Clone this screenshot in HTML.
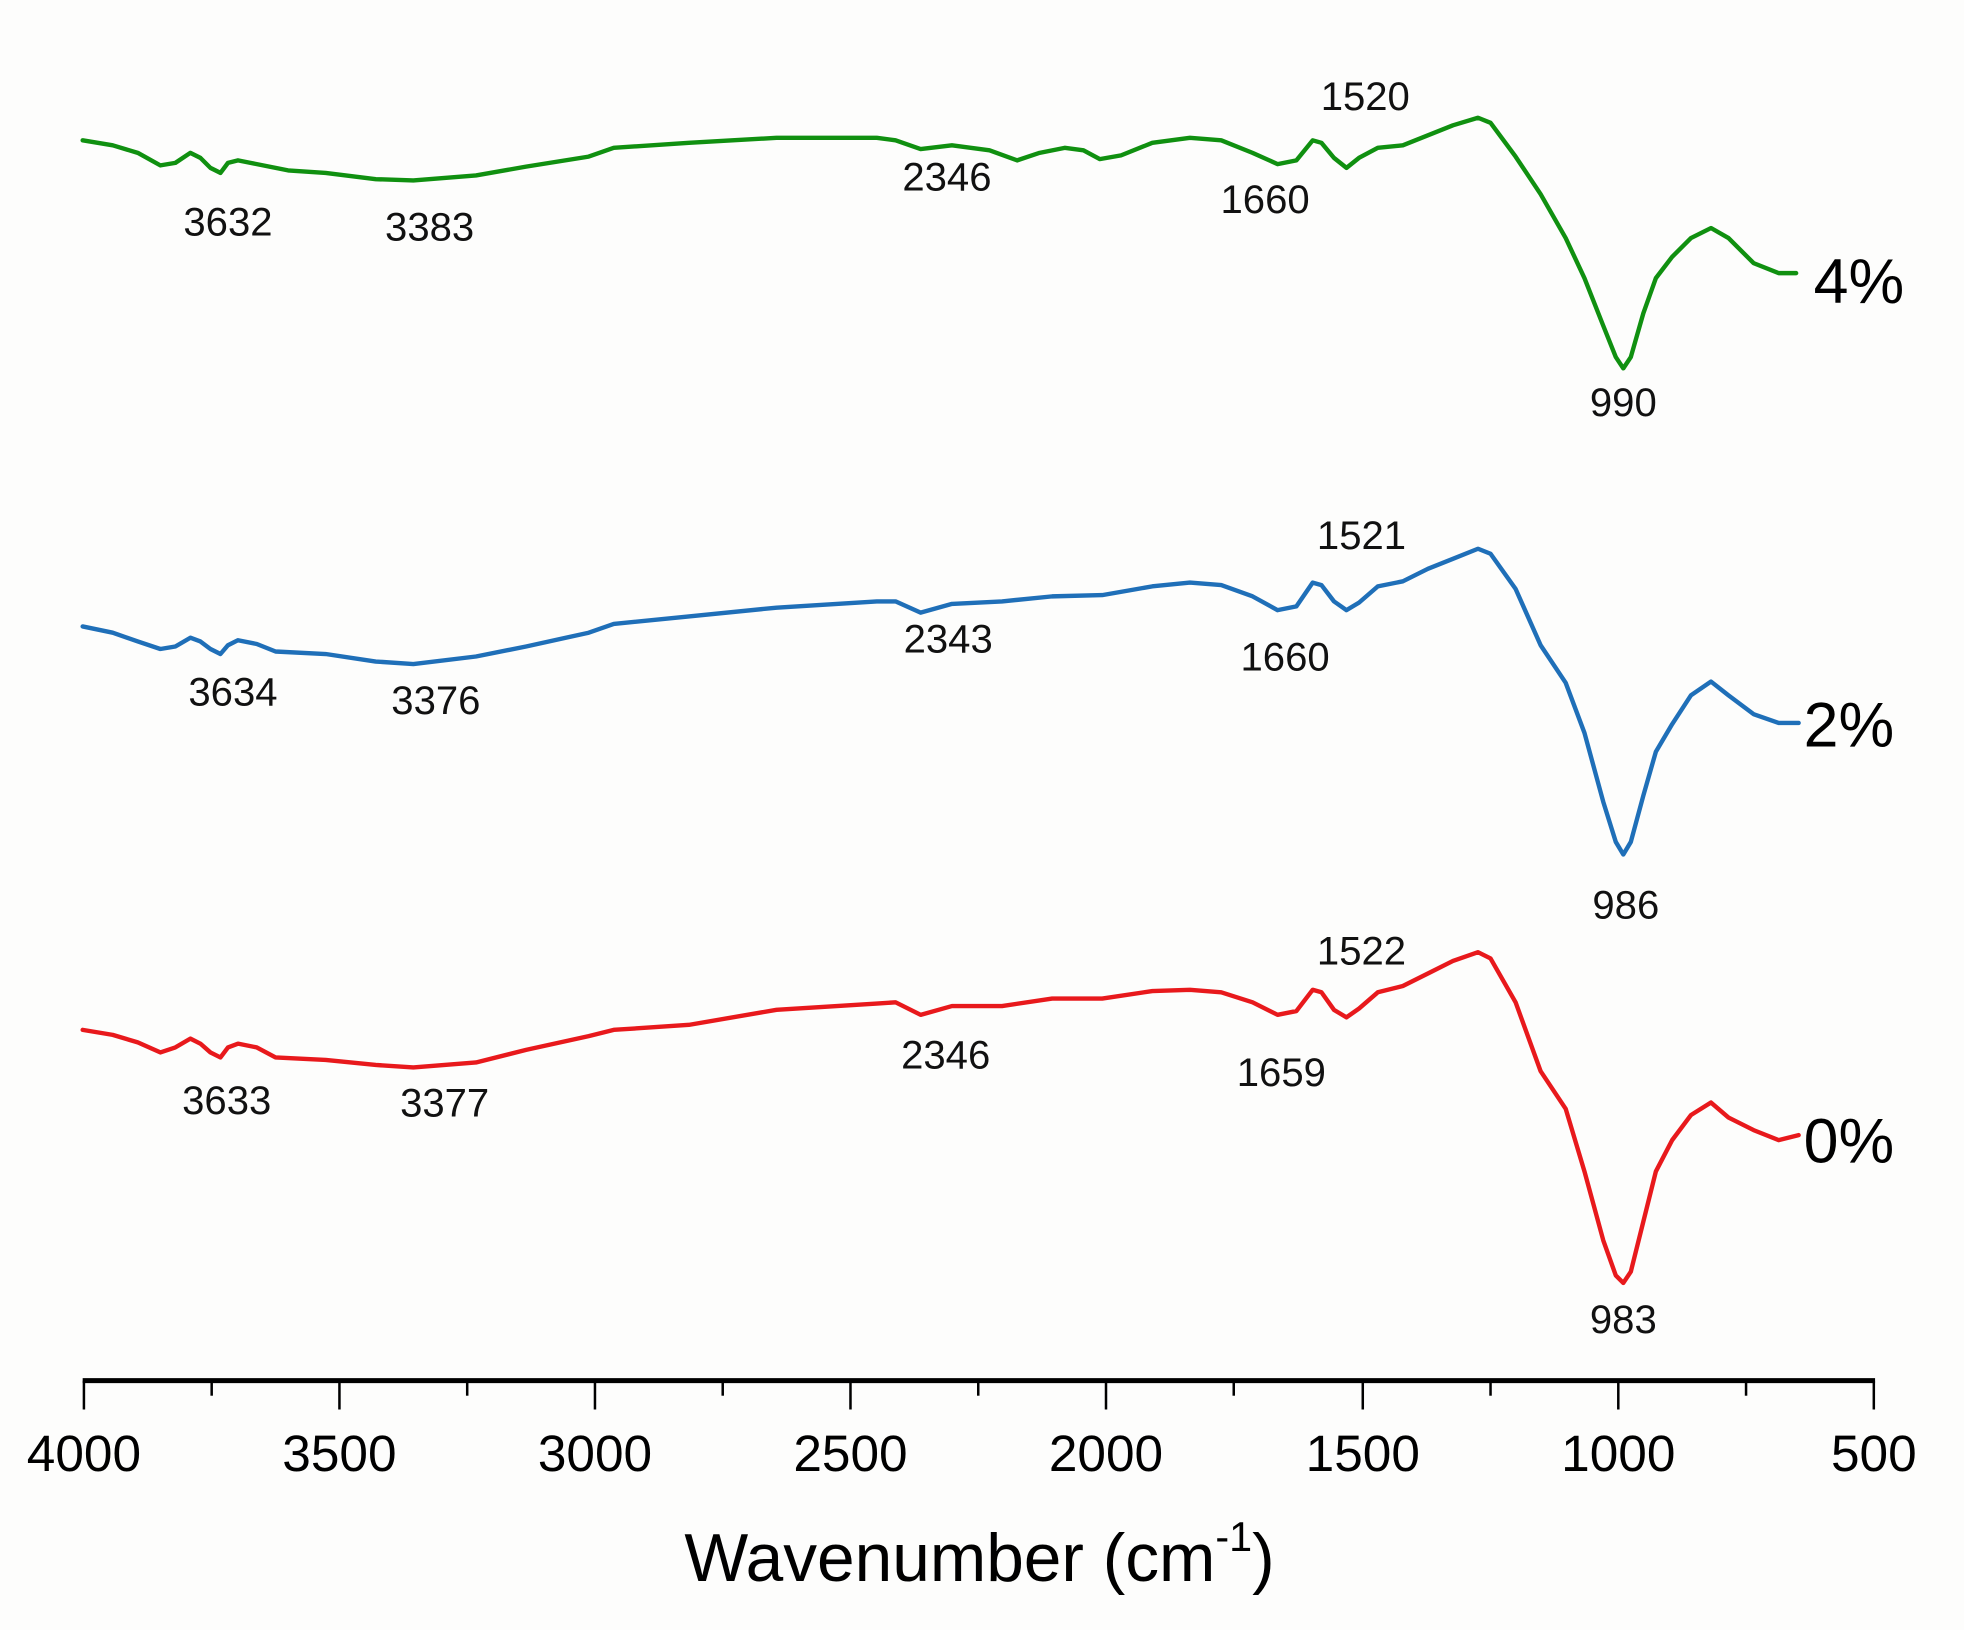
<!DOCTYPE html>
<html><head><style>html,body{margin:0;padding:0;background:#fff;}svg{display:block}</style></head>
<body>
<svg width="1964" height="1630" viewBox="0 0 1568 1301" preserveAspectRatio="none" xmlns="http://www.w3.org/2000/svg" font-family="Liberation Sans, Arial, sans-serif">
<rect width="1568" height="1301" fill="#fdfdfc"/>
<g fill="none" stroke-width="3.5" stroke-linejoin="round" stroke-linecap="round">
<polyline stroke="#109010" points="66,112 90,116 110,122 128,132 140,130 152,122 160,126 168,134 176,138 182,130 190,128 200,130 215,133 230,136 260,138 300,143 330,144 380,140 420,133 470,125 490,118 550,114 620,110 700,110 715,112 735,119 760,116 790,120 812,128 830,122 850,118 865,120 878,127 895,124 920,114 950,110 975,112 1000,122 1020,131 1035,128 1048,112 1055,114 1065,126 1075,134 1085,126 1100,118 1120,116 1140,108 1160,100 1180,94 1190,98 1210,125 1230,155 1250,190 1265,222 1280,260 1290,285 1296,294 1302,285 1312,250 1322,222 1335,205 1350,190 1366,182 1380,190 1400,210 1420,218 1434,218"/>
<polyline stroke="#1f6fb8" points="66,500 90,505 110,512 128,518 140,516 152,509 160,512 168,518 176,522 182,515 190,511 205,514 220,520 260,522 300,528 330,530 380,524 420,516 470,505 490,498 550,492 620,485 700,480 715,480 735,489 760,482 800,480 840,476 880,475 920,468 950,465 975,467 1000,476 1020,487 1035,484 1048,465 1055,467 1065,480 1075,487 1085,481 1100,468 1120,464 1140,454 1160,446 1180,438 1190,442 1210,470 1230,515 1250,545 1265,585 1280,640 1290,672 1296,682 1302,672 1312,635 1322,600 1335,578 1350,555 1366,544 1380,555 1400,570 1420,577 1436,577"/>
<polyline stroke="#e8191c" points="66,822 90,826 110,832 128,840 140,836 152,829 160,833 168,840 176,844 182,836 190,833 205,836 220,844 260,846 300,850 330,852 380,848 420,838 470,827 490,822 550,818 620,806 700,801 715,800 735,810 760,803 800,803 840,797 880,797 920,791 950,790 975,792 1000,800 1020,810 1035,807 1048,790 1055,792 1065,806 1075,812 1085,805 1100,792 1120,787 1140,777 1160,767 1180,760 1190,765 1210,800 1230,855 1250,885 1265,935 1280,990 1290,1018 1296,1024 1302,1015 1312,975 1322,935 1335,910 1350,890 1366,880 1380,892 1400,902 1420,910 1436,906"/>
</g>
<g font-size="32" fill="#111" text-anchor="middle">
<text x="182" y="188">3632</text><text x="343" y="192">3383</text><text x="756" y="152">2346</text><text x="1010" y="170">1660</text><text x="1090" y="88">1520</text><text x="1296" y="332">990</text>
<text x="186" y="563">3634</text><text x="348" y="570">3376</text><text x="757" y="521">2343</text><text x="1026" y="535">1660</text><text x="1087" y="438">1521</text><text x="1298" y="733">986</text>
<text x="181" y="889">3633</text><text x="355" y="891">3377</text><text x="755" y="853">2346</text><text x="1023" y="867">1659</text><text x="1087" y="770">1522</text><text x="1296" y="1064">983</text>
</g>
<g font-size="50" fill="#000">
<text x="1448" y="242">4%</text><text x="1440" y="596">2%</text><text x="1440" y="928">0%</text>
</g>
<g stroke="#000" stroke-width="2">
<line x1="66" y1="1102" x2="1497" y2="1102" stroke-width="4"/>
<line x1="67" y1="1102" x2="67" y2="1125"/><line x1="271" y1="1102" x2="271" y2="1125"/><line x1="475" y1="1102" x2="475" y2="1125"/><line x1="679" y1="1102" x2="679" y2="1125"/><line x1="883" y1="1102" x2="883" y2="1125"/><line x1="1088" y1="1102" x2="1088" y2="1125"/><line x1="1292" y1="1102" x2="1292" y2="1125"/><line x1="1496" y1="1102" x2="1496" y2="1125"/>
<line x1="169" y1="1102" x2="169" y2="1114"/><line x1="373" y1="1102" x2="373" y2="1114"/><line x1="577" y1="1102" x2="577" y2="1114"/><line x1="781" y1="1102" x2="781" y2="1114"/><line x1="985" y1="1102" x2="985" y2="1114"/><line x1="1190" y1="1102" x2="1190" y2="1114"/><line x1="1394" y1="1102" x2="1394" y2="1114"/>
</g>
<g font-size="41" fill="#000" text-anchor="middle">
<text x="67" y="1174">4000</text><text x="271" y="1174">3500</text><text x="475" y="1174">3000</text><text x="679" y="1174">2500</text><text x="883" y="1174">2000</text><text x="1088" y="1174">1500</text><text x="1292" y="1174">1000</text><text x="1496" y="1174">500</text>
</g>
<text x="782" y="1262" font-size="54" text-anchor="middle" fill="#000">Wavenumber (cm<tspan font-size="33" dy="-24">-1</tspan><tspan dy="24">)</tspan></text>
</svg>
</body></html>
